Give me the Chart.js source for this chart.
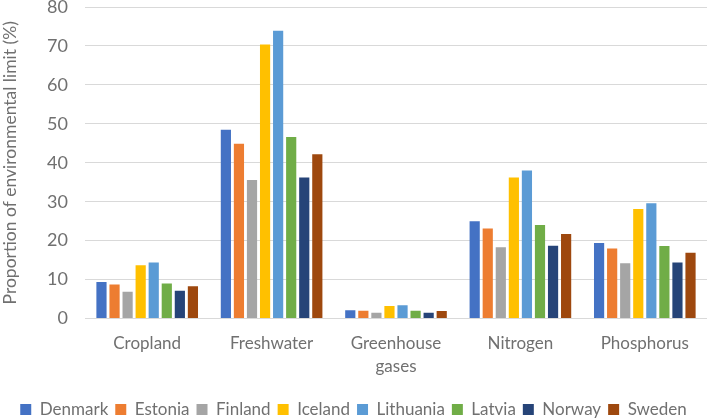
<!DOCTYPE html>
<html>
<head>
<meta charset="utf-8">
<script src="https://cdn.jsdelivr.net/npm/chart.js@4"></script>
<style>
    html, body { margin: 0; padding: 0; background: #fff; }
    #wrap { width: 707px; height: 419px; }
</style>
</head>
<body>
<div id="wrap"><canvas id="chart"></canvas></div>
<script>
const categories = ['Cropland', 'Freshwater', ['Greenhouse', 'gases'], 'Nitrogen', 'Phosphorus'];
const countries = ['Denmark', 'Estonia', 'Finland', 'Iceland', 'Lithuania', 'Latvia', 'Norway', 'Sweden'];

const denmark   = [9.4, 48.5, 2.1, 25.0, 19.4];
const estonia   = [8.7, 44.9, 2.0, 23.1, 18.0];
const finland   = [6.9, 35.6, 1.5, 18.3, 14.2];
const iceland   = [13.7, 70.4, 3.2, 36.2, 28.1];
const lithuania = [14.4, 73.9, 3.4, 38.0, 29.6];
const latvia    = [9.0, 46.6, 2.0, 24.0, 18.6];
const norway    = [7.1, 36.2, 1.5, 18.7, 14.4];
const sweden    = [8.3, 42.2, 1.9, 21.7, 16.9];

const yTicks = [0, 10, 20, 30, 40, 50, 60, 70, 80];

const series = [denmark, estonia, finland, iceland, lithuania, latvia, norway, sweden];
//              blue       orange     gray       yellow     lightblue  green      navy       brown
const colors = ['#4472C4', '#ED7D31', '#A5A5A5', '#FFC000', '#5B9BD5', '#70AD47', '#264478', '#9E480E'];

const textColor = '#707070';
const font = { family: 'Lato, "Open Sans", sans-serif', size: 17, lineHeight: 1.35 };

new Chart(document.getElementById('chart'), {
    type: 'bar',
    data: {
        labels: categories,
        datasets: series.map((data, i) => ({
            label: countries[i],
            data: data,
            backgroundColor: colors[i],
            borderWidth: 0,
            categoryPercentage: 0.84,
            barPercentage: 0.78
        }))
    },
    options: {
        responsive: true,
        maintainAspectRatio: false,
        animation: false,
        layout: { padding: { bottom: -9 } },
        plugins: {
            legend: {
                position: 'bottom',
                labels: {
                    color: textColor,
                    font: font,
                    boxWidth: 11,
                    boxHeight: 11,
                    padding: 7
                }
            },
            tooltip: { enabled: false }
        },
        scales: {
            x: {
                grid: { display: false, drawTicks: false },
                border: { color: '#d9d9d9' },
                ticks: { color: textColor, font: font, padding: 14, maxRotation: 0, autoSkip: false },
                afterFit: axis => { axis.height = 75.5; }
            },
            y: {
                min: 0,
                max: 80,
                afterBuildTicks: axis => { axis.ticks = yTicks.map(v => ({ value: v })); },
                afterFit: axis => {
                    axis.width = 85;
                    axis.paddingTop = 7;
                    axis.paddingBottom = 0;
                },
                grid: { color: '#d9d9d9', drawTicks: false },
                border: { display: false },
                ticks: { color: textColor, font: { family: font.family, size: 18 }, padding: 17 },
                title: {
                    display: true,
                    text: 'Proportion of environmental limit (%)',
                    color: textColor,
                    font: { family: font.family, size: 17.5 },
                    padding: 0
                }
            }
        }
    }
});
</script>
</body>
</html>
